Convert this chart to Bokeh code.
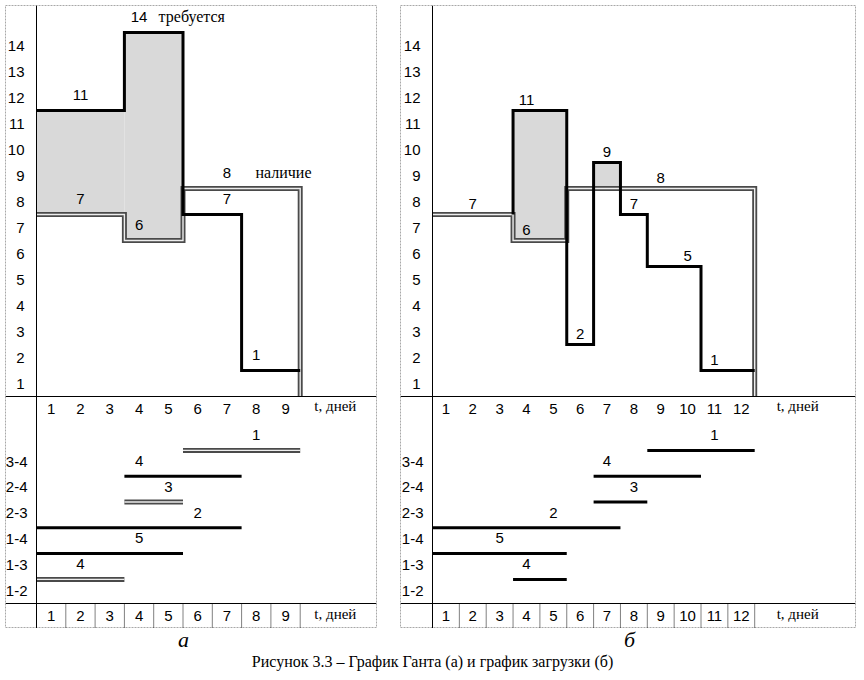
from bokeh.plotting import figure
from bokeh.models import Range1d, LinearAxis, FixedTicker, Span
from bokeh.layouts import column, row
from bokeh.embed import file_html
from bokeh.resources import INLINE
from bokeh.core.properties import value

# ---------------- data ----------------
load_ticks = list(range(1, 15))
row_labels = ["1-2", "1-3", "1-4", "2-3", "2-4", "3-4"]
resources = [4, 5, 2, 3, 4, 1]

# panel (a): Gantt chart
a_days = 9
a_start = [0, 0, 0, 3, 3, 5]
a_end = [3, 5, 7, 5, 7, 9]
a_crit = [True, False, False, True, False, True]
a_req_t = [0, 3, 5, 7, 9]
a_req_v = [11, 14, 7, 1]
a_av_t = [0, 3, 5, 9]
a_av_v = [7, 6, 8]
a_req_lab_day = [2, 4, 7, 8]
a_av_lab_day = [2, 4, 7]
a_bar_lab_day = [2, 4, 6, 5, 4, 8]

# panel (b): load chart
b_days = 12
b_start = [3, 0, 0, 6, 6, 8]
b_end = [5, 5, 7, 8, 10, 12]
b_crit = [False, False, False, False, False, False]
b_req_t = [0, 3, 5, 6, 7, 8, 10, 12]
b_req_v = [7, 11, 2, 9, 7, 5, 1]
b_av_t = [0, 3, 5, 12]
b_av_v = [7, 6, 8]
b_req_lab_day = [None, 4, 6, 7, 8, 10, 11]
b_av_lab_day = [2, 4, 9]
b_bar_lab_day = [4, 3, 5, 8, 7, 11]

SANS = value("Liberation Sans")
SERIF = value("Liberation Serif")

# vertical geometry (page pixels; page content starts at 0,0)
PAGE_TOP, PAGE_BOT = 5, 628
LOAD0, LOAD_PX = 396.0, 26.0
ROW0, ROW_PX = 590.0, 25.8
BOT_AXIS_PX = 603.0


def step_val(ts, vs, t):
    for i in range(len(vs)):
        if ts[i] <= t < ts[i + 1]:
            return vs[i]
    return 0


def step_path(ts, vs, to_zero=False, skip_same=None):
    xs, ys = [], []
    first = 0
    if skip_same is not None:
        while first < len(vs) and vs[first] == step_val(skip_same[0], skip_same[1],
                                                      (ts[first] + ts[first + 1]) / 2):
            first += 1
    if first > 0:
        xs.append(ts[first]); ys.append(vs[first - 1])
    for i in range(first, len(vs)):
        xs += [ts[i], ts[i + 1]]
        ys += [vs[i], vs[i]]
    if to_zero:
        xs.append(ts[-1]); ys.append(0)
    return xs, ys


def build(days, start, end, crit, req_t, req_v, av_t, av_v, req_lab, av_lab,
          bar_lab, lab_dy, px0, pxd, fl, fr, width, mbl, mbr, tlab_t):
    x0 = (fl - px0) / pxd
    x1 = (fr - px0) / pxd
    yl0 = (LOAD0 - PAGE_BOT) / LOAD_PX
    yl1 = (LOAD0 - PAGE_TOP) / LOAD_PX
    yg0 = (ROW0 - PAGE_BOT) / ROW_PX
    yg1 = (ROW0 - PAGE_TOP) / ROW_PX
    p = figure(width=width, height=PAGE_BOT,
               x_range=Range1d(x0, x1), y_range=Range1d(yl0, yl1),
               output_backend="svg", toolbar_location=None,
               x_axis_location=None, y_axis_location=None,
               min_border_left=mbl, min_border_right=mbr,
               min_border_top=PAGE_TOP, min_border_bottom=0)
    p.extra_y_ranges = {"gantt": Range1d(yg0, yg1)}
    p.xgrid.grid_line_color = None
    p.ygrid.grid_line_color = None
    p.outline_line_color = "#a8a8a8"
    p.outline_line_dash = "2 1"
    p.background_fill_color = "white"
    p.border_fill_color = "white"

    # shaded deficit area
    bps = sorted(set(req_t) | set(av_t))
    L, R, B, T = [], [], [], []
    for t0, t1 in zip(bps[:-1], bps[1:]):
        mid = (t0 + t1) / 2
        r = step_val(req_t, req_v, mid)
        a = step_val(av_t, av_v, mid)
        if r > a:
            L.append(t0); R.append(t1); B.append(a); T.append(r)
    p.quad(left=L, right=R, bottom=B, top=T, fill_color="#d9d9d9", line_color=None)

    # y axis line
    p.add_layout(Span(location=0, dimension="height", line_color="black", line_width=1))

    # availability (double line)
    xs, ys = step_path(av_t, av_v, to_zero=True)
    p.line(xs, ys, line_width=5, line_color="#4a4a4a", line_join="miter")
    p.line(xs, ys, line_width=1.4, line_color="#ededed", line_join="miter")
    # requirement (bold black)
    xs, ys = step_path(req_t, req_v, skip_same=(av_t, av_v))
    p.line(xs, ys, line_width=3, line_color="black", line_join="miter")

    # step labels
    lx, ly, lt = [], [], []
    for i, d in enumerate(req_lab):
        if d is not None:
            lx.append(d - 0.5); ly.append(req_v[i] + lab_dy); lt.append(str(req_v[i]))
    for i, d in enumerate(av_lab):
        lx.append(d - 0.5); ly.append(av_v[i] + lab_dy); lt.append(str(av_v[i]))
    p.text(x=lx, y=ly, text=lt, text_font=SANS, text_font_size="15px",
           text_align="center", text_baseline="middle", text_color="black")

    # Gantt bars
    rows = list(range(len(row_labels)))
    bar_y = [r + 0.43 for r in rows]
    for s, e, c, y in zip(start, end, crit, bar_y):
        if c:
            p.line([s, e], [y, y], line_width=5, line_color="#4a4a4a", y_range_name="gantt")
            p.line([s, e], [y, y], line_width=1.4, line_color="#ededed", y_range_name="gantt")
        else:
            p.line([s, e], [y, y], line_width=3, line_color="black", y_range_name="gantt")
    p.text(x=[d - 0.5 for d in bar_lab], y=[y + 0.59 for y in bar_y],
           text=[str(v) for v in resources], y_range_name="gantt",
           text_font=SANS, text_font_size="15px", text_align="center",
           text_baseline="middle", text_color="black")

    # dotted day separators in the bottom scale row
    dsep = list(range(1, days + 1))
    bot_loc = (ROW0 - BOT_AXIS_PX) / ROW_PX
    p.segment(x0=dsep, y0=[bot_loc] * days, x1=dsep, y1=[yg0] * days,
              y_range_name="gantt", line_color="black", line_dash="1 1", line_width=1)

    # axes
    day_ticks = [d - 0.5 for d in range(1, days + 1)]
    day_over = {d - 0.5: str(d) for d in range(1, days + 1)}
    common = dict(major_tick_line_color=None, minor_tick_line_color=None,
                  major_label_text_font="Liberation Sans",
                  major_label_text_font_size="15px",
                  major_label_text_color="black")
    yl = LinearAxis(fixed_location=0,
                    ticker=FixedTicker(ticks=[k - 0.5 for k in load_ticks]),
                    major_label_overrides={k - 0.5: str(k) for k in load_ticks},
                    axis_line_color=None, major_label_standoff=6, **common)
    p.add_layout(yl, "left")
    yg = LinearAxis(fixed_location=0, y_range_name="gantt",
                    ticker=FixedTicker(ticks=rows),
                    major_label_overrides={r: row_labels[r] for r in rows},
                    axis_line_color=None, major_label_standoff=3, **common)
    p.add_layout(yg, "left")
    xt = LinearAxis(fixed_location=0, ticker=FixedTicker(ticks=day_ticks),
                    major_label_overrides=day_over, axis_line_color="black",
                    major_label_standoff=1, **common)
    p.add_layout(xt, "below")
    xb = LinearAxis(fixed_location=bot_loc, y_range_name="gantt",
                    ticker=FixedTicker(ticks=day_ticks),
                    major_label_overrides=day_over, axis_line_color="black",
                    major_label_standoff=1, **common)
    p.add_layout(xb, "below")

    # "t, дней" unit labels
    p.text(x=[tlab_t], y=[(LOAD0 - 405) / LOAD_PX], text=["t, дней"],
           text_font=SERIF, text_font_size="15px", text_align="center",
           text_baseline="middle", text_color="black")
    p.text(x=[tlab_t], y=[(ROW0 - 613) / ROW_PX], text=["t, дней"],
           y_range_name="gantt", text_font=SERIF, text_font_size="15px",
           text_align="center", text_baseline="middle", text_color="black")
    return p


pa = build(a_days, a_start, a_end, a_crit, a_req_t, a_req_v, a_av_t, a_av_v,
           a_req_lab_day, a_av_lab_day, a_bar_lab_day, 0.58,
           px0=36.0, pxd=29.3, fl=5, fr=376, width=398, mbl=5, mbr=22, tlab_t=10.2)
# annotations on (a)
pa.text(x=[5.3, 8.43], y=[14.6, 8.6], text=["требуется", "наличие"],
        text_font=SERIF, text_font_size="16px", text_align="center",
        text_baseline="middle", text_color="black")

pb = build(b_days, b_start, b_end, b_crit, b_req_t, b_req_v, b_av_t, b_av_v,
           b_req_lab_day, b_av_lab_day, b_bar_lab_day, 0.42,
           px0=432.0, pxd=26.85, fl=400, fr=855, width=460, mbl=2, mbr=3, tlab_t=13.6)

cap = figure(width=858, height=50, x_range=Range1d(0, 858), y_range=Range1d(50, 0),
             output_backend="svg", toolbar_location=None,
             x_axis_location=None, y_axis_location=None,
             min_border_left=0, min_border_right=0, min_border_top=0, min_border_bottom=0)
cap.xgrid.grid_line_color = None
cap.ygrid.grid_line_color = None
cap.outline_line_color = None
cap.text(x=[183, 629], y=[11, 11], text=["а", "б"], text_font=SERIF,
         text_font_style="italic", text_font_size="22px", text_align="center",
         text_baseline="middle", text_color="black")
cap.text(x=[432], y=[33], text=["Рисунок 3.3 – График Ганта (а) и график загрузки (б)"],
         text_font=SERIF, text_font_size="16px", text_align="center",
         text_baseline="middle", text_color="black")

layout = column(row(pa, pb), cap)
open("out.html", "w").write(file_html(layout, INLINE))
